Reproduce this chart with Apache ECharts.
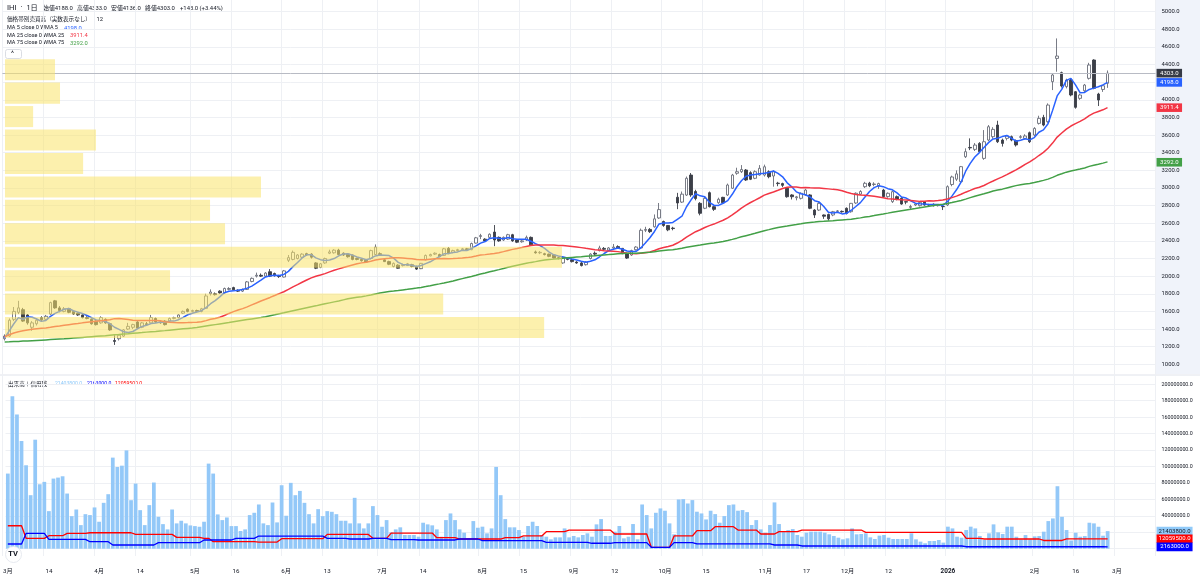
<!DOCTYPE html>
<html><head><meta charset="utf-8">
<script src="https://cdn.jsdelivr.net/npm/echarts@6/dist/echarts.min.js"></script>
<style>html,body{margin:0;padding:0;background:#fff}#c{width:1200px;height:578px}</style>
</head><body><div id="c"></div>
<script>
// ---------- calendar (TSE trading days) ----------
const holidays = ['2025-03-20','2025-04-29','2025-05-05','2025-05-06','2025-07-21','2025-08-11','2025-09-15','2025-09-23','2025-10-13','2025-11-03','2025-11-24','2025-12-31','2026-01-01','2026-01-02','2026-01-12','2026-02-11','2026-02-23'];
const firstDay = '2025-03-03', lastAxisDay = '2026-03-12';

// ---------- tick labels ----------
const tickDates = ['2025-03-03','2025-03-14','2025-04-01','2025-04-14','2025-05-01','2025-05-16','2025-06-02','2025-06-13','2025-07-01','2025-07-14','2025-08-01','2025-08-15','2025-09-01','2025-09-12','2025-10-01','2025-10-15','2025-11-04','2025-11-17','2025-12-01','2025-12-12','2026-01-05','2026-02-02','2026-02-16','2026-03-02'];
const tickTexts = ['3月','14','4月','14','5月','16','6月','13','7月','14','8月','15','9月','12','10月','15','11月','17','12月','12','2026','2月','16','3月'];

// ---------- daily OHLC ----------
const opens = [1290,1320,1510,1590,1620,1560,1420,1460,1530,1510,
1570,1720,1640,1600,1630,1600,1580,1560,1530,1510,
1490,1470,1510,1460,1270,1290,1320,1400,1420,1480,
1420,1460,1470,1520,1480,1490,1490,1520,1530,1580,
1625,1600,1610,1600,1635,1800,1800,1830,1810,1850,
1870,1840,1830,1850,1940,2000,2010,2000,2050,2030,
2000,1990,2180,2190,2200,2215,2255,2250,2150,2100,
2150,2260,2265,2295,2260,2250,2240,2200,2190,2180,
2200,2245,2255,2185,2165,2110,2125,2120,2120,2130,
2110,2085,2185,2230,2250,2245,2235,2315,2270,2290,
2300,2310,2300,2375,2450,2420,2440,2500,2440,2410,
2420,2470,2410,2390,2410,2440,2275,2265,2255,2250,
2240,2210,2150,2200,2185,2160,2150,2130,2200,2260,
2290,2315,2295,2320,2335,2315,2255,2240,2300,2320,
2520,2530,2560,2660,2620,2575,2545,2895,2840,2920,
3147,2960,2826,2770,2947,2788,2833,2894,2921,2997,
3167,3185,3204,3174,3110,3147,3147,3185,3136,3055,
3050,2997,2921,2890,2883,2921,2921,2750,2750,2694,
2700,2694,2735,2735,2770,2731,2830,2930,3015,3055,
3040,3020,2977,2902,2845,2902,2883,2845,2780,2807,
2800,2845,2810,2815,2800,2790,2807,3040,3100,3072,
3355,3460,3438,3506,3336,3544,3582,3714,3544,3563,
3582,3537,3575,3563,3627,3601,3733,3801,3752,4206,
4470,4308,4150,4225,4092,4017,4103,4244,4452,4066,
4118,4188];
const highs = [1340,1520,1650,1720,1640,1570,1490,1520,1545,1560,
1710,1730,1660,1650,1640,1610,1590,1570,1545,1520,
1500,1545,1520,1470,1330,1345,1400,1470,1460,1490,
1480,1480,1560,1530,1500,1500,1530,1540,1570,1610,
1635,1620,1620,1640,1800,1850,1815,1840,1870,1875,
1880,1850,1860,1945,1985,2040,2030,2045,2080,2040,
2015,2070,2240,2290,2250,2260,2265,2260,2160,2150,
2210,2300,2305,2310,2270,2260,2245,2210,2200,2190,
2300,2360,2270,2195,2175,2155,2135,2140,2150,2140,
2120,2150,2245,2255,2270,2255,2320,2330,2300,2310,
2320,2320,2380,2445,2480,2430,2485,2580,2450,2450,
2480,2480,2420,2410,2460,2450,2290,2285,2265,2255,
2245,2220,2225,2210,2195,2170,2160,2170,2260,2280,
2345,2330,2330,2365,2350,2320,2260,2300,2340,2540,
2560,2545,2700,2830,2630,2580,2560,2945,2960,3130,
3170,2980,2840,2900,2960,2800,2890,2900,3050,3160,
3230,3260,3215,3190,3200,3260,3265,3200,3200,3070,
3060,3010,2930,2910,2950,2990,2930,2760,2840,2700,
2710,2740,2750,2745,2780,2830,2950,2975,3070,3070,
3065,3060,2990,2950,2970,2915,2895,2850,2810,2830,
2845,2850,2820,2825,2815,2800,3030,3140,3200,3250,
3450,3563,3510,3520,3657,3714,3690,3763,3560,3600,
3595,3550,3600,3610,3640,3690,3820,3830,3960,4300,
4697,4320,4240,4240,4100,4070,4180,4420,4460,4080,
4170,4333];
const lows = [1270,1310,1490,1570,1480,1450,1380,1440,1490,1500,
1560,1630,1590,1590,1580,1560,1550,1520,1510,1450,
1440,1460,1460,1380,1220,1270,1310,1390,1400,1400,
1410,1440,1460,1470,1460,1440,1480,1510,1520,1570,
1590,1590,1590,1590,1630,1780,1780,1800,1800,1840,
1840,1820,1820,1845,1930,1985,1990,1990,1990,1995,
1980,1985,2160,2180,2190,2200,2230,2200,2080,2090,
2140,2250,2255,2240,2230,2210,2180,2180,2165,2150,
2190,2240,2235,2160,2125,2100,2085,2110,2115,2100,
2070,2080,2180,2225,2240,2215,2230,2250,2260,2280,
2290,2290,2295,2370,2420,2395,2430,2340,2390,2400,
2410,2390,2375,2380,2400,2345,2255,2250,2235,2215,
2200,2190,2140,2180,2155,2140,2110,2120,2190,2230,
2280,2290,2285,2310,2310,2250,2195,2230,2290,2310,
2500,2490,2550,2650,2560,2510,2520,2760,2830,2910,
2900,2860,2690,2760,2780,2740,2820,2820,2910,2990,
3150,3170,3080,3090,3100,3140,3130,3110,3015,3020,
3010,2890,2870,2860,2870,2910,2760,2660,2740,2650,
2630,2680,2720,2720,2700,2720,2820,2920,3000,3010,
3020,2990,2890,2890,2830,2860,2810,2815,2750,2795,
2790,2800,2795,2790,2790,2750,2795,3020,3080,3060,
3340,3430,3420,3400,3320,3530,3560,3510,3470,3540,
3530,3470,3560,3550,3510,3590,3720,3700,3740,4111,
4319,4140,4130,4040,3900,4000,4090,4230,4120,3930,
4090,4136];
const closes = [1320,1500,1600,1640,1490,1470,1470,1500,1505,1545,
1700,1640,1610,1630,1590,1570,1560,1530,1520,1460,
1450,1530,1470,1390,1260,1330,1390,1430,1450,1410,
1470,1450,1530,1480,1470,1450,1520,1530,1560,1600,
1600,1610,1600,1630,1775,1820,1790,1810,1860,1860,
1845,1830,1850,1935,1975,2010,2000,2035,2000,2005,
1995,2060,2210,2270,2240,2250,2240,2215,2090,2140,
2200,2275,2295,2245,2240,2220,2190,2190,2175,2160,
2290,2330,2245,2165,2135,2145,2090,2130,2140,2110,
2080,2145,2235,2245,2260,2220,2310,2255,2290,2300,
2310,2300,2370,2435,2460,2400,2475,2410,2400,2440,
2470,2400,2385,2400,2440,2355,2265,2270,2245,2225,
2205,2200,2215,2190,2165,2150,2120,2160,2250,2250,
2320,2305,2320,2330,2320,2255,2205,2290,2330,2520,
2530,2505,2650,2755,2575,2525,2540,2830,2930,3110,
2921,2880,2713,2883,2788,2758,2872,2833,3034,3147,
3185,3210,3091,3099,3185,3223,3241,3128,3185,3050,
3030,2901,2901,2900,2940,2977,2770,2694,2826,2680,
2650,2731,2740,2730,2713,2826,2940,2960,3053,3025,
3045,3050,2902,2940,2958,2871,2818,2840,2790,2818,
2837,2807,2807,2800,2810,2788,3015,3125,3160,3242,
3412,3455,3487,3412,3525,3695,3665,3525,3506,3590,
3544,3488,3582,3590,3525,3676,3790,3714,3941,4282,
4497,4157,4225,4055,3915,4055,4168,4395,4131,3998,
4160,4303];

// ---------- daily volume (millions of shares) ----------
const volumeM = [91.4,185.5,163.3,131,101.5,65.1,132.6,78.4,81.3,45.7,
85.3,86.5,88.1,67.1,39.6,47.7,28.7,42,40.9,50.2,
32.8,55.8,66.3,110.8,99.4,101,119.6,59,79.2,46.9,
28.7,53,80.5,38.8,29.9,23.5,47.7,30.8,34,30.8,
28.3,27.5,26.7,32.8,103.5,91.4,41.7,34.8,38,27.5,
27.5,21.5,23.5,40.9,43.7,53.8,30.8,28.7,56.2,32,
77.2,40.1,80.1,65.1,70.3,55.8,42,30.8,48.1,39.6,
45.7,44.9,42,34,34,30.8,61.9,30.8,24.7,30.8,
51.8,40.9,26.7,34.8,19.9,23.5,26,16.7,16.7,16.7,
14.6,31.6,29.6,28.4,23.5,14.6,34.8,42.9,34.8,23.5,
19.5,12.6,33.6,25.5,26.8,18.7,24.7,99.5,65.1,36,
26,26,22.7,14.6,27.6,32.8,27.6,16.7,14.6,11.4,
13.8,13.8,24.7,13.8,15.5,13.8,16.7,18.7,14.6,29.6,
36,15.5,15.5,20.7,27.6,12.6,14.6,30,11.4,53.8,
40.9,24.7,43.7,49,46.2,30.8,17.5,59.9,60.3,55,
59.1,45,42.9,35.6,46.2,42.1,31.6,39.7,53,53.8,
46.2,47,44.5,28.8,34.8,23.5,19.5,28.8,56.3,30,
20.7,22.7,23.9,16.7,14.6,19.5,20.7,20.7,20.7,19.5,
17.5,15.5,13.4,11.4,12.6,24.7,17.5,17.9,18.7,13.8,
11.8,15.9,16.7,13.4,11.8,11.8,11.8,11.8,18.7,11.4,
8.6,6.6,9.4,9.4,10.6,7.4,26.8,24.7,14.6,13.4,
22.7,26.8,24.7,15.5,10.6,18.7,29.6,19.9,17.9,26.8,
26.8,14.6,11.4,16.6,11.4,15,15.4,20.7,33.6,36.8,
76,38.8,22.7,10,19.4,14.6,15.4,31.6,30.8,26.7,
15.8,21.4038];

// ---------- margin balances (millions), weekly values as [value, number of days] ----------
const creditRedRuns = [[27.9,4],[12.6,5],[15.8,4],[18.6,5],[19.4,10],[17.4,9],[13.8,6],[12.6,2],[8.5,10],[8.1,5],[12.2,10],[17.4,10],[12.6,4],[19.0,10],[13.4,5],[11.8,10],[13.4,4],[15.5,5],[20.7,5],[22.7,10],[17.9,8],[1.7,5],[15.5,5],[21.9,4],[26.8,5],[22.7,5],[17.9,4],[20.7,5],[22.7,14],[19.9,22],[12.6,4],[11.8,13],[10.0,5],[12.06,9],[12.0595,1]];
const creditBlueRuns = [[5.7,4],[18.6,5],[11.4,9],[8.5,5],[4.5,10],[7.3,10],[10.6,7],[12.6,5],[15.4,15],[12.6,5],[11.8,5],[12.6,4],[11.0,6],[10.6,9],[11.8,5],[9.8,14],[7.8,10],[6.6,5],[7.4,8],[1.7,5],[7.4,5],[5.8,17],[4.5,6],[3.3,36],[2.4,31],[2.163,1]];

const ma5Head = [1300,1380,1460,1530];
const ma25Head = [1313,1335,1355,1370,1380,1390,1397,1403,1408,1413,1420,1428,1435,1443,1450,1457,1463,1470,1476,1482,1488,1494,1500,1505];
const ma75Head = [1253,1255,1258,1260,1263,1265,1268,1271,1274,1277,1280,1283,1286,1289,1293,1297,1301,1305,1309,1313,1317,1321,1325,1330,1334,1338,1343,1347,1352,1356,1360,1365,1369,1373,1378,1382,1387,1392,1397,1402,1407,1412,1418,1426,1434,1442,1450,1458,1466,1474,1483,1491,1499,1507,1515,1523,1531,1540,1551,1562,1574,1585,1597,1608,1619,1630,1641,1652,1663,1675,1686,1697,1708,1719];

// ---------- volume profile (12 rows, bottom to top, millions) ----------
const profileLow = 1284, profileHigh = 4475;
const profileVolumes = [1725,1402,528,1782,704,656,819,250,291,90,176,160];

// ---------- last values shown in tags / legend ----------
const priceTagValues = [4303.0, 4198.0, 3911.4, 3292.0];
const volTagValues = [21403800, 12059500, 2163000];

// ================= build =================
function buildCategories(){
  const out=[]; let t=Date.parse(firstDay+'T00:00:00Z'); const end=Date.parse(lastAxisDay+'T00:00:00Z');
  while(t<=end){const d=new Date(t);const wd=d.getUTCDay();const s=d.toISOString().slice(0,10);
    if(wd!==0&&wd!==6&&holidays.indexOf(s)<0) out.push(s); t+=86400000;}
  return out;
}
const cats = buildCategories();
const tickMap = {}; tickDates.forEach((d,i)=>tickMap[d]=tickTexts[i]);
const expand = runs => runs.reduce((a,[v,n])=>a.concat(Array(n).fill(v)),[]);
function movingAvg(n, head){
  return closes.map((c,i)=>{ if(i<head.length) return head[i];
    let s=0; for(let k=i-n+1;k<=i;k++) s+=closes[k]; return +(s/n).toFixed(2); });
}
const ma5 = movingAvg(5, ma5Head), ma25 = movingAvg(25, ma25Head), ma75 = movingAvg(75, ma75Head);
const candleData = closes.map((c,i)=>[opens[i], c, lows[i], highs[i]]);
const volData = volumeM.map(v=>Math.round(v*1e6));
const redData = expand(creditRedRuns).map(v=>Math.round(v*1e6));
const blueData = expand(creditBlueRuns).map(v=>Math.round(v*1e6));
const step = (profileHigh-profileLow)/profileVolumes.length;
const profileData = profileVolumes.map((v,r)=>[v, profileLow+r*step, profileLow+(r+1)*step]);
const profileMax = Math.max(...profileVolumes)/0.483;

const FONT = 'Roboto, "Noto Sans CJK JP", sans-serif';
const TXT = '#131722';
const GRIDC = '#eef0f4';
const isTick = (idx, val) => tickMap[val] !== undefined;

const priceTagColors = ['#363a45','#2962ff','#f23645','#43a047'];
const priceTagText = ['#ffffff','#ffffff','#ffffff','#ffffff'];
const volTagColors = ['#90caf9','#ff0000','#0000ff'];
const volTagText = [TXT,'#ffffff','#ffffff'];

function tagRenderer(colors, textColors, fmt, w){
  return function(params, api){
    const v = api.value(1);
    const y = api.coord([0, v])[1];
    const x0 = params.coordSys.x + params.coordSys.width + 1;
    const i = params.dataIndex;
    return {type:'group', children:[
      {type:'rect', shape:{x:x0, y:y-4.3, width:w, height:8.6}, style:{fill:colors[i]}},
      {type:'text', x:x0+w/2, y:y, style:{text:fmt(v), fill:textColors[i], font:'6px '+FONT, align:'center', verticalAlign:'middle'}}
    ]};
  };
}

const chart = echarts.init(document.getElementById('c'), null, {renderer:'canvas'});
const gridL = 2.4, gridW = cats.length*4.576;
const gridR = 1200 - gridL - gridW;

const option = {
  animation:false,
  backgroundColor:'#ffffff',
  grid:[
    {left:gridL, right:gridR, top:11.7, height:352.6},
    {left:gridL, right:gridR, top:384.3, height:164.4},
    {left:gridL, right:gridR, top:0, height:556}
  ],
  xAxis:[
    {type:'category', data:cats, gridIndex:0, boundaryGap:true, axisLine:{show:false}, axisTick:{show:false}, axisLabel:{show:false}, splitLine:{show:false}},
    {type:'category', data:cats, gridIndex:1, boundaryGap:true, axisLine:{show:false}, axisTick:{show:false},
      axisLabel:{show:true, interval:isTick, margin:20, fontSize:6.2, color:TXT, fontFamily:FONT,
        formatter:v=>{const t=tickMap[v]||''; return /^\d{4}$/.test(t)?'{b|'+t+'}':t;},
        rich:{b:{fontWeight:'bold', fontSize:6.4, color:TXT, fontFamily:FONT}}}, splitLine:{show:false}},
    {type:'value', gridIndex:0, min:0, max:profileMax, show:false, position:'top'},
    {type:'category', data:cats, gridIndex:2, boundaryGap:true, axisLine:{show:false}, axisTick:{show:false}, axisLabel:{show:false},
      splitLine:{show:true, interval:isTick, lineStyle:{color:GRIDC, width:1}}}
  ],
  yAxis:[
    {type:'value', gridIndex:0, position:'right', min:1000, max:5000, interval:200, axisLine:{show:false}, axisTick:{show:false},
      axisLabel:{margin:6, fontSize:5.9, color:TXT, fontFamily:FONT, formatter:v=>v.toFixed(1)},
      splitLine:{show:true, lineStyle:{color:GRIDC, width:1}}},
    {type:'value', gridIndex:1, position:'right', min:0, max:200000000, interval:20000000, axisLine:{show:false}, axisTick:{show:false},
      axisLabel:{margin:6, fontSize:5.3, color:TXT, fontFamily:FONT, formatter:v=>(v===0||v===20000000)?'':v.toFixed(1)},
      splitLine:{show:true, lineStyle:{color:GRIDC, width:1}}},
    {type:'value', gridIndex:2, show:false, min:0, max:1}
  ],
  graphic:[
    {type:'rect', z:-10, shape:{x:gridL+gridW+0.5, y:0, width:60, height:374}, style:{fill:'#f0f3fa'}},
    {type:'line', z:-5, shape:{x1:0, y1:375, x2:1200, y2:375}, style:{stroke:'#e0e3eb', lineWidth:1}},
    {type:'text', left:7, top:4.5, style:{text:'IHI', font:'7.6px '+FONT, fill:TXT}},
    {type:'text', left:20.5, top:3, style:{text:'·', font:'8px '+FONT, fill:TXT}},
    {type:'text', left:26.5, top:4.5, style:{text:'1日', font:'7.2px '+FONT, fill:TXT}},
    {type:'text', left:43, top:6, style:{text:'始値4188.0', font:'5.9px '+FONT, fill:TXT}},
    {type:'text', left:77, top:6, style:{text:'高値4333.0', font:'5.9px '+FONT, fill:TXT}},
    {type:'text', left:111, top:6, style:{text:'安値4136.0', font:'5.9px '+FONT, fill:TXT}},
    {type:'text', left:145, top:6, style:{text:'終値4303.0', font:'5.9px '+FONT, fill:TXT}},
    {type:'text', left:180, top:6, style:{text:'+143.0 (+3.44%)', font:'5.9px '+FONT, fill:TXT}},
    {type:'text', left:7, top:17, style:{text:'価格帯別売買高（実数表示なし）', font:'5.6px '+FONT, fill:TXT}},
    {type:'text', left:96.5, top:17, style:{text:'12', font:'5.8px '+FONT, fill:TXT}},
    {type:'text', left:7, top:25.3, style:{text:'MA 5 close 0 WMA 5', font:'5.5px '+FONT, fill:TXT}},
    {type:'text', left:64, top:25.3, style:{text:'4198.0', font:'5.8px '+FONT, fill:'#2962ff'}},
    {type:'text', left:7, top:32.7, style:{text:'MA 25 close 0 WMA 25', font:'5.5px '+FONT, fill:TXT}},
    {type:'text', left:70, top:32.7, style:{text:'3911.4', font:'5.8px '+FONT, fill:'#f23645'}},
    {type:'text', left:7, top:40.3, style:{text:'MA 75 close 0 WMA 75', font:'5.5px '+FONT, fill:TXT}},
    {type:'text', left:70, top:40.3, style:{text:'3292.0', font:'5.8px '+FONT, fill:'#43a047'}},
    {type:'rect', z:50, shape:{x:5.5, y:49.5, width:16, height:9, r:2}, style:{fill:'#ffffff', stroke:'#d1d4dc', lineWidth:0.8}},
    {type:'text', z:51, left:11, top:51, style:{text:'^', font:'7px '+FONT, fill:TXT}},
    {type:'text', left:8, top:381.5, style:{text:'出来高＋信用残', font:'5.6px '+FONT, fill:TXT}},
    {type:'text', left:55, top:381.5, style:{text:'21403800.0', font:'5.1px '+FONT, fill:'#90caf9'}},
    {type:'text', left:87, top:381.5, style:{text:'2163000.0', font:'5.1px '+FONT, fill:'#0000ff'}},
    {type:'text', left:115, top:381.5, style:{text:'12059500.0', font:'5.1px '+FONT, fill:'#ff0000'}},
    {type:'circle', z:50, shape:{cx:13.5, cy:554.5, r:8}, style:{fill:'#ffffff', stroke:'#e0e3eb', lineWidth:0.8}},
    {type:'text', z:51, left:8.3, top:550.5, style:{text:'TV', font:'bold 7.5px '+FONT, fill:TXT}}
  ],
  series:[
    {type:'candlestick', name:'IHI', xAxisIndex:0, yAxisIndex:0, data:candleData, barWidth:3, z:3,
      itemStyle:{color:'#ffffff', color0:'#3b3e47', borderColor:'#6a6d78', borderColor0:'#3b3e47', borderWidth:0.9},
      markLine:{silent:true, symbol:'none', label:{show:false}, lineStyle:{color:'#b8bbc4', width:1, type:'solid'},
        data:[{yAxis:priceTagValues[0]}]}},
    {type:'line', name:'MA5', xAxisIndex:0, yAxisIndex:0, data:ma5, showSymbol:false, z:4, lineStyle:{color:'#2962ff', width:1.5}},
    {type:'line', name:'MA25', xAxisIndex:0, yAxisIndex:0, data:ma25, showSymbol:false, z:4, lineStyle:{color:'#f23645', width:1.5}},
    {type:'line', name:'MA75', xAxisIndex:0, yAxisIndex:0, data:ma75, showSymbol:false, z:4, lineStyle:{color:'#43a047', width:1.5}},
    {type:'custom', name:'profile', xAxisIndex:2, yAxisIndex:0, data:profileData, z:8, silent:true,
      renderItem:function(params, api){
        const p0 = api.coord([0, api.value(2)]); const p1 = api.coord([api.value(0), api.value(1)]);
        return {type:'rect', shape:{x:p0[0]+2.6, y:p0[1]+1.2, width:p1[0]-p0[0], height:p1[1]-p0[1]-2.4},
          style:{fill:'rgba(250,228,105,0.55)'}};
      }},
    {type:'custom', name:'priceTags', xAxisIndex:0, yAxisIndex:0, z:20, silent:true,
      data:priceTagValues.map(v=>[0,v]), renderItem:tagRenderer(priceTagColors, priceTagText, v=>v.toFixed(1), 25.5)},
    {type:'bar', name:'出来高', xAxisIndex:1, yAxisIndex:1, data:volData, barWidth:'82%', itemStyle:{color:'#93c8f8'}, z:2},
    {type:'line', name:'信用買残', xAxisIndex:1, yAxisIndex:1, data:redData, showSymbol:false, z:4, lineStyle:{color:'#ff0000', width:1.3}},
    {type:'line', name:'信用売残', xAxisIndex:1, yAxisIndex:1, data:blueData, showSymbol:false, z:4, lineStyle:{color:'#0000ff', width:1.3}},
    {type:'custom', name:'volTags', xAxisIndex:1, yAxisIndex:1, z:20, silent:true,
      data:volTagValues.map(v=>[0,v]), renderItem:tagRenderer(volTagColors, volTagText, v=>v.toFixed(1), 36)}
  ]
};
chart.setOption(option);
</script>
</body></html>
